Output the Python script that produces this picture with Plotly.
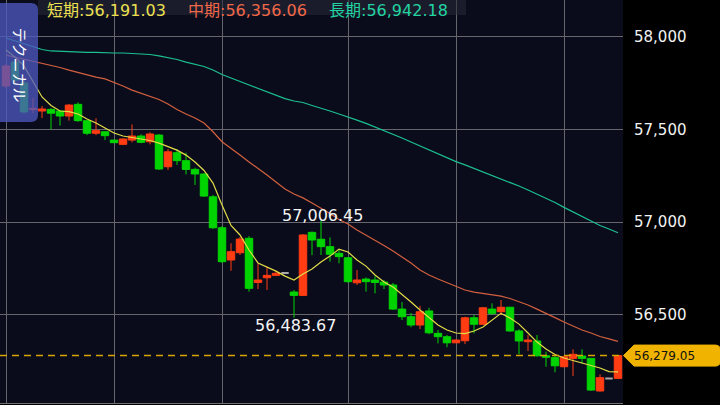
import plotly.graph_objects as go

# ---------------- data ----------------
candle_idx = list(range(69))
open_ = [57734, 57863, 57750, 57607, 57599, 57608, 57599, 57572, 57635, 57547,
         57479, 57487, 57442, 57419, 57442, 57464, 57433, 57469, 57298, 57374,
         57331, 57284, 57259, 57136, 56969, 56795, 56834, 56912, 56674, 56699,
         56712, 56725, 56622, 56604, 56944, 56907, 56867, 56831, 56807, 56672,
         56692, 56687, 56676, 56660, 56530, 56489, 56444, 56520, 56399, 56381,
         56348, 56359, 56483, 56448, 56530, 56516, 56540, 56412, 56354, 56358,
         56278, 56268, 56219, 56264, 56277, 56264, 56088, 56156, 56156]
high = [57853, 57874, 57766, 57669, 57626, 57614, 57604, 57637, 57646, 57547,
        57560, 57491, 57444, 57452, 57527, 57473, 57484, 57475, 57394, 57394,
        57374, 57293, 57264, 57146, 56978, 56885, 56919, 56924, 56777, 56759,
        56735, 56728, 56633, 56935, 56949, 57006.45, 56917, 56849, 56811, 56741,
        56701, 56708, 56687, 56671, 56568, 56509, 56547, 56537, 56417, 56390,
        56366, 56489, 56498, 56541, 56561, 56579, 56541, 56421, 56390, 56390,
        56300, 56282, 56279, 56313, 56313, 56266, 56178, 56158, 56282]
low = [57723, 57745, 57583, 57588, 57561, 57500, 57520, 57547, 57541, 57469,
       57469, 57442, 57427, 57415, 57430, 57425, 57419, 57281, 57281, 57308,
       57257, 57200, 57135, 56962, 56779, 56737, 56822, 56624, 56638, 56633,
       56708, 56722, 56483.67, 56600, 56822, 56822, 56786, 56777, 56673, 56660,
       56624, 56615, 56638, 56525, 56471, 56432, 56422, 56395, 56345, 56324,
       56347, 56341, 56399, 56444, 56498, 56498, 56408, 56286, 56304, 56273,
       56219, 56189, 56215, 56169, 56237, 56088, 56085, 56154, 56152]
close = [57842, 57766, 57594, 57612, 57610, 57587, 57572, 57631, 57547, 57479,
         57493, 57466, 57428, 57448, 57464, 57430, 57475, 57286, 57379, 57331,
         57284, 57259, 57140, 56969, 56786, 56840, 56908, 56642, 56687, 56712,
         56723, 56725, 56604, 56930, 56903, 56867, 56826, 56813, 56678, 56687,
         56678, 56674, 56660, 56530, 56489, 56444, 56516, 56402, 56381, 56348,
         56363, 56483, 56448, 56537, 56507, 56540, 56412, 56358, 56363, 56278,
         56270, 56224, 56273, 56286, 56264, 56093, 56160, 56156, 56279.05]
neutral_idx = [31, 67]      # unchanged (grey) candles
marked_high_idx = 35        # candle whose high is annotated
marked_low_idx = 32         # candle whose low is annotated

short_ma = [57928, 57890, 57842, 57755, 57675, 57629, 57599, 57596, 57583, 57556,
            57534, 57507, 57480, 57464, 57456, 57451, 57440, 57426, 57407, 57388,
            57361, 57324, 57278, 57210, 57092, 56981, 56930, 56849, 56779, 56757,
            56735, 56708, 56687, 56719, 56746, 56784, 56816, 56854, 56838, 56795,
            56762, 56714, 56676, 56649, 56611, 56568, 56525, 56487, 56444, 56417,
            56401, 56398, 56412, 56433, 56471, 56507, 56482, 56449, 56401, 56352,
            56315, 56285, 56266, 56252, 56239, 56228, 56212, 56193, 56191.03]
mid_ma = [57901, 57890, 57880, 57869, 57858, 57845, 57834, 57820, 57807, 57793,
          57782, 57772, 57755, 57734, 57712, 57696, 57680, 57661, 57637, 57607,
          57583, 57561, 57534, 57487, 57433, 57399, 57362, 57324, 57291, 57254,
          57216, 57178, 57151, 57130, 57102, 57075, 57046, 57013, 56989, 56957,
          56930, 56903, 56873, 56843, 56811, 56779, 56741, 56714, 56692, 56671,
          56654, 56633, 56622, 56614, 56609, 56600, 56587, 56571, 56552, 56530,
          56509, 56484, 56460, 56439, 56417, 56401, 56382, 56369, 56356.06]
long_ma = [57993, 57977, 57961, 57944, 57931, 57923, 57920, 57917, 57917, 57915,
           57915, 57912, 57912, 57912, 57910, 57907, 57904, 57897, 57888, 57877,
           57863, 57850, 57839, 57820, 57796, 57777, 57758, 57742, 57723, 57703,
           57685, 57666, 57653, 57645, 57629, 57612, 57599, 57583, 57568, 57550,
           57532, 57513, 57494, 57475, 57453, 57432, 57410, 57389, 57367, 57345,
           57326, 57308, 57289, 57270, 57252, 57236, 57216, 57194, 57173, 57151,
           57130, 57105, 57079, 57054, 57030, 57002, 56981, 56962, 56942.18]

ma_labels = ["短期", "中期", "長期"]
y_ticks = [56500, 57000, 57500, 58000]
grid_idx = [0, 12, 24, 38, 50, 62]

# ---------------- styling / layout constants ----------------
W, H = 720, 405
PLOT_W, PLOT_H = 623, 403
X_RANGE = [-0.667, 68.556]
Y_RANGE = [56023.2, 58198.1]
UP, DOWN, FLAT = "#ff3c12", "#00d400", "#a8a8a8"
MA_COLORS = ["#e2dc48", "#d2603e", "#1cbf8f"]
LABEL_COLORS = ["#ece050", "#f06848", "#22d4a2"]
FONT = "DejaVu Sans, Noto Sans CJK JP"


def xp(px):
    return px / PLOT_W


def yp(py):
    return 1 - py / PLOT_H


main_i = [i for i in candle_idx if i not in neutral_idx]

fig = go.Figure()
fig.add_trace(go.Candlestick(
    x=[candle_idx[i] for i in main_i],
    open=[open_[i] for i in main_i], high=[high[i] for i in main_i],
    low=[low[i] for i in main_i], close=[close[i] for i in main_i],
    increasing=dict(line=dict(color=UP, width=1), fillcolor=UP),
    decreasing=dict(line=dict(color=DOWN, width=1), fillcolor=DOWN),
    whiskerwidth=0, hoverinfo="skip"))
fig.add_trace(go.Candlestick(
    x=[candle_idx[i] for i in neutral_idx],
    open=[open_[i] for i in neutral_idx], high=[high[i] for i in neutral_idx],
    low=[low[i] for i in neutral_idx], close=[close[i] for i in neutral_idx],
    increasing=dict(line=dict(color=FLAT, width=2), fillcolor=FLAT),
    decreasing=dict(line=dict(color=FLAT, width=2), fillcolor=FLAT),
    whiskerwidth=0, hoverinfo="skip"))

for series, col in zip([long_ma, mid_ma, short_ma], MA_COLORS[::-1]):
    fig.add_trace(go.Scatter(x=candle_idx, y=series, mode="lines",
                             line=dict(color=col, width=1.2), hoverinfo="skip"))

last = close[-1]
y_per_px = (Y_RANGE[1] - Y_RANGE[0]) / PLOT_H

shapes = []
# last price dashed line
shapes.append(dict(type="line", xref="paper", yref="y", x0=0, x1=1, y0=last, y1=last,
                   line=dict(color="#d8a400", width=1.5, dash="7px,5px"), layer="above"))
# price tag on the axis
dy = 10.5 * y_per_px
dr = 4 * y_per_px
path = (f"M {xp(623.5)},{last} L {xp(634)},{last + dy} L {xp(715)},{last + dy} "
        f"Q {xp(720)},{last + dy} {xp(720)},{last + dy - dr} L {xp(720)},{last - dy + dr} "
        f"Q {xp(720)},{last - dy} {xp(715)},{last - dy} L {xp(634)},{last - dy} Z")
shapes.append(dict(type="path", xref="paper", yref="y", path=path,
                   fillcolor="#f0b400", line=dict(color="#f0b400", width=1), layer="above"))
# header band
shapes.append(dict(type="rect", xref="paper", yref="paper", x0=xp(38), x1=xp(466),
                   y0=yp(15), y1=yp(0), fillcolor="rgba(40,42,56,0.55)", line=dict(width=0),
                   layer="above"))
# テクニカル panel (rounded right side)
r = 7
pth = (f"M {xp(-5)},{yp(3)} L {xp(38 - r)},{yp(3)} Q {xp(38)},{yp(3)} {xp(38)},{yp(3 + r)} "
       f"L {xp(38)},{yp(122 - r)} Q {xp(38)},{yp(122)} {xp(38 - r)},{yp(122)} "
       f"L {xp(-5)},{yp(122)} Z")
shapes.append(dict(type="path", xref="paper", yref="paper", path=pth,
                   fillcolor="rgba(78,90,192,0.76)", line=dict(width=0), layer="above"))

annotations = []
annotations.append(dict(xref="paper", yref="y", x=xp(664), y=last, text=f"{last:,.2f}",
                        showarrow=False, xanchor="center", yanchor="middle",
                        font=dict(family=FONT, size=12, color="#111111")))
# header MA values
header_x = [46, 187, 328]
for lab, series, col, hx in zip(ma_labels, [short_ma, mid_ma, long_ma], LABEL_COLORS, header_x):
    annotations.append(dict(xref="paper", yref="paper", x=xp(hx), y=1,
                            text=f"{lab}:{series[-1]:,.2f}", showarrow=False,
                            xanchor="left", yanchor="top", borderpad=0,
                            font=dict(family=FONT, size=16, color=col)))
# high / low labels
annotations.append(dict(x=candle_idx[marked_high_idx], y=high[marked_high_idx],
                        text=f"{high[marked_high_idx]:,.2f}",
                        showarrow=False, xanchor="center", yanchor="middle", yshift=5, xshift=1,
                        font=dict(family=FONT, size=16, color="#f4f4f4")))
annotations.append(dict(x=candle_idx[marked_low_idx], y=low[marked_low_idx],
                        text=f"{low[marked_low_idx]:,.2f}",
                        showarrow=False, xanchor="center", yanchor="middle", yshift=-8, xshift=1,
                        font=dict(family=FONT, size=16, color="#f4f4f4")))
# panel label
annotations.append(dict(xref="paper", yref="paper", x=xp(19.5), y=yp(65), text="テクニカル",
                        showarrow=False, textangle=90, xanchor="center", yanchor="middle",
                        font=dict(family="Noto Sans CJK JP", size=15, color="#ffffff")))

fig.update_layout(
    width=W, height=H,
    margin=dict(l=0, r=W - PLOT_W, t=0, b=H - PLOT_H, pad=0),
    paper_bgcolor="#000000", plot_bgcolor="#0a0c1c",
    showlegend=False, boxgap=0.17, boxgroupgap=0,
    shapes=shapes, annotations=annotations,
    xaxis=dict(range=X_RANGE, tickvals=grid_idx, showticklabels=False, ticks="",
               showgrid=True, gridcolor="#66666c", gridwidth=1, zeroline=False,
               showline=True, linecolor="#707070", linewidth=1,
               rangeslider=dict(visible=False), fixedrange=True),
    yaxis=dict(range=Y_RANGE, side="right", tickvals=y_ticks, tickformat=",.0f",
               ticks="", showgrid=True, gridcolor="#66666c", gridwidth=1, zeroline=False,
               ticklabelstandoff=10,
               tickfont=dict(family=FONT, size=15, color="#f2f2f2"), fixedrange=True),
)

fig.write_html(
    "out.html",
    config={"displayModeBar": False, "staticPlot": True},
    post_script="document.body.style.margin='0';document.body.style.background='#000';",
)
